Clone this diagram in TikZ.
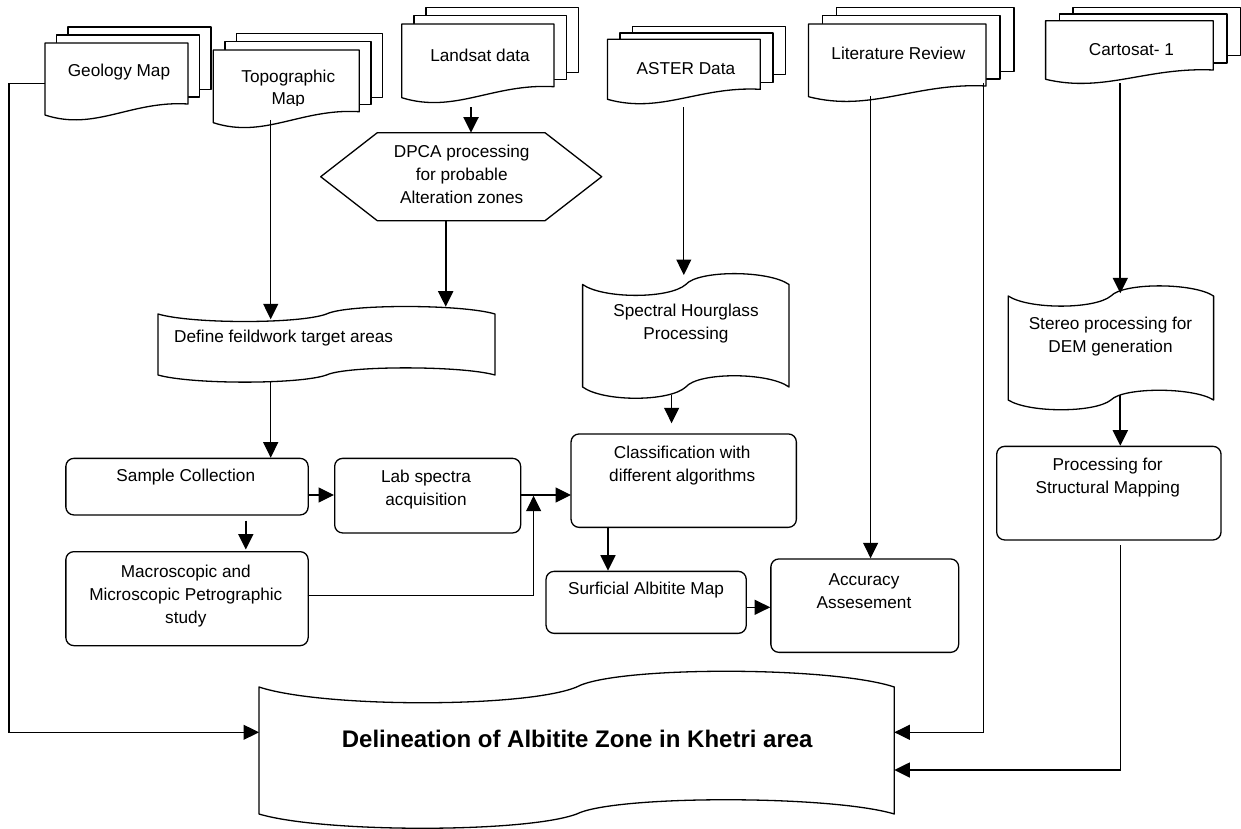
\documentclass[tikz,border=0pt]{standalone}
\usepackage{fontspec}
\setmainfont{Liberation Sans}
\usetikzlibrary{arrows.meta}
\tikzset{
  shp/.style={draw, fill=white, line width=1.3pt, line join=round},
  rbox/.style={draw, fill=white, line width=1.3pt, rounded corners=8pt, anchor=north west, inner sep=0pt},
  txt/.style={inner sep=0pt, align=center, font=\fontsize{17.2}{23}\selectfont},
  arr/.style={line width=1.2pt, -{Triangle[length=15.5pt,width=15pt]}},
  arrk/.style={line width=2pt, -{Triangle[length=15.5pt,width=15pt]}},
  ln/.style={line width=1.2pt}
}
% stacked document: x0 x1 y0 yR yL dx dy
\newcommand\mdoc[7]{%
  \draw[shp] ({#1+2*#6},{#3-2*#7}) rectangle ({#2+2*#6},{#4-14.5});
  \draw[shp] ({#1+#6},{#3-#7}) rectangle ({#2+#6},{#4-7});
  \draw[shp] (#1,#5) -- (#1,#3) -- (#2,#3) -- (#2,#4)
    .. controls ({#1+0.6*(#2-#1)},{#4-0.33*(#5-#4)}) and ({#1+0.35*(#2-#1)},{#5+1.5*(#5-#4)}) .. (#1,#5) -- cycle;
}
% punched tape: x0 x1 ytop ybot atop abot
\newcommand\tapeshape[6]{%
  \draw[shp] (#1,#3)
    .. controls ({#1+0.1*(#2-#1)},{#3+#5}) and ({#1+0.42*(#2-#1)},{#3+#5}) .. ({(#1+#2)/2},#3)
    .. controls ({#1+0.56*(#2-#1)},{#3-#5}) and ({#1+0.9*(#2-#1)},{#3-#5}) .. (#2,#3)
    -- (#2,#4)
    .. controls ({#1+0.9*(#2-#1)},{#4-#6}) and ({#1+0.56*(#2-#1)},{#4-#6}) .. ({(#1+#2)/2},#4)
    .. controls ({#1+0.42*(#2-#1)},{#4+#6}) and ({#1+0.1*(#2-#1)},{#4+#6}) .. (#1,#4) -- cycle;
}
\begin{document}
\begin{tikzpicture}[x=1pt,y=-1pt]
\useasboundingbox (0,0) rectangle (1241,829);

% ---- stacked documents ----
\mdoc{45}{188}{43}{104}{115}{11.5}{8}
\node[txt] (geo) at (119,72) {Geology Map};

\mdoc{213.3}{359.3}{50}{111.7}{122.7}{11.7}{8.3}
\begin{scope}
  \clip (213.3,50) rectangle (359.3,106);
  \node[txt, font=\fontsize{17.2}{21.7}\selectfont] (topo) at (288.3,89.2) {Topographic\\Map};
\end{scope}

\mdoc{401.7}{554}{24}{86.7}{97.7}{12.2}{8.2}
\node[txt] (landsat) at (480,55) {Landsat data};

\mdoc{607.4}{760.3}{39.3}{89.3}{99.3}{12.7}{6.3}
\node[txt] (aster) at (685.9,68.3) {ASTER Data};

\mdoc{808.5}{986}{24}{86}{96.7}{14}{8.3}
\node[txt] (lit) at (898.4,53.3) {Literature Review};

\mdoc{1045.6}{1213.2}{20.7}{70}{79.3}{13.7}{6.7}
\node[txt] (carto) at (1131.5,49.3) {Cartosat- 1};

% ---- hexagon ----
\draw[shp] (320.7,176.7) -- (377.3,132.7) -- (545,132.7) -- (601.7,176.7) -- (545,220.7) -- (377.3,220.7) -- cycle;
\node[txt] (dpca) at (461.7,174.3) {DPCA processing\\for probable\\Alteration zones};

% ---- punched tapes ----
\tapeshape{158}{495}{314}{375}{10}{9.5}
\node[txt, anchor=west] (define) at (174,338.3) {Define feildwork target areas};

\tapeshape{582.6}{789}{284.5}{387}{14.5}{15}
\node[txt] (hour) at (686,323.3) {Spectral Hourglass\\Processing};

\tapeshape{1008.2}{1213.6}{296}{400}{13.5}{13}
\node[txt] (stereo) at (1110.5,336.7) {Stereo processing for\\DEM generation};

\tapeshape{259}{894.3}{687}{814}{21}{19}
\node[anchor=base, inner sep=0pt, font=\bfseries\fontsize{24}{28}\selectfont] (delin) at (577.2,747.3) {Delineation of Albitite Zone in Khetri area};

% ---- rounded boxes ----
\node[rbox, minimum width=242.3pt, minimum height=56.6pt] (samp) at (65.2,457.7) {};
\node[txt] (sampT) at (185.8,477.3) {Sample Collection};
\node[rbox, minimum width=186pt, minimum height=74.6pt] (lab) at (334,457.7) {};
\node[txt] (labT) at (426,489.7) {Lab spectra\\acquisition};
\node[rbox, minimum width=242.3pt, minimum height=94pt] (macro) at (65.2,551) {};
\node[txt] (macroT) at (185.8,596.4) {Macroscopic and\\Microscopic Petrographic\\study};
\node[rbox, minimum width=225.3pt, minimum height=93.4pt] (class) at (570.4,433.3) {};
\node[txt] (classT) at (682.2,465.3) {Classification with\\different algorithms};
\node[rbox, minimum width=200.2pt, minimum height=62pt] (surf) at (545.4,570.7) {};
\node[txt] (surfT) at (646,590) {Surficial Albitite Map};
\node[rbox, minimum width=187.8pt, minimum height=93.4pt] (acc) at (770.2,558.3) {};
\node[txt] (accT) at (864,591) {Accuracy\\Assesement};
\node[rbox, minimum width=224.4pt, minimum height=93.6pt] (proc) at (996,445.7) {};
\node[txt] (procT) at (1107.7,477.7) {Processing for\\Structural Mapping};

% ---- connector end points ----
\coordinate (geoOut) at (45,83.3);
\coordinate (geoBend) at (9,83.3);
\coordinate (delinL) at (259,732.3);
\coordinate (topoOut) at (270.7,120);
\coordinate (defIn1) at (270.7,319.3);
\coordinate (landOut) at (471,107.3);
\coordinate (dpcaIn) at (471,132.7);
\coordinate (dpcaOut) at (445.7,220.7);
\coordinate (defIn2) at (445.7,306.7);
\coordinate (defOut) at (270.7,382);
\coordinate (sampIn) at (270.7,457.7);
\coordinate (sampR) at (307.5,495);
\coordinate (labL) at (334,495);
\coordinate (sampB) at (245.8,520.7);
\coordinate (macroIn) at (245.8,549.5);
\coordinate (macroR) at (307.5,595.7);
\coordinate (joinUp) at (533.6,495.7);
\coordinate (labR) at (520,495);
\coordinate (classL) at (571,495);
\coordinate (asterOut) at (683.8,107.3);
\coordinate (hourIn) at (683.8,275);
\coordinate (hourOut) at (671.6,395);
\coordinate (classIn) at (671.6,423.3);
\coordinate (classOut) at (608,526.7);
\coordinate (surfIn) at (608,570.7);
\coordinate (surfR) at (745.6,607.3);
\coordinate (accL) at (770.2,607.3);
\coordinate (litOut1) at (870.6,96);
\coordinate (accIn) at (870.6,558.3);
\coordinate (litOut2) at (983.5,83);
\coordinate (delinR1) at (894.3,732.3);
\coordinate (cartoOut) at (1120.3,83.3);
\coordinate (stereoIn) at (1120.3,293.3);
\coordinate (stereoOut) at (1120.3,395);
\coordinate (procIn) at (1120.3,445.7);
\coordinate (procOut) at (1120.3,545);
\coordinate (delinR2) at (894.3,770);

% ---- connectors ----
\draw[arr] (geoOut) -- (geoBend) |- (delinL);
\draw[arr] (topoOut) -- (defIn1);
\draw[arrk] (landOut) -- (dpcaIn);
\draw[arrk] (dpcaOut) -- (defIn2);
\draw[arr] (defOut) -- (sampIn);
\draw[arr] (sampR) -- (labL);
\draw[arrk] (sampB) -- (macroIn);
\draw[arr] (macroR) -| (joinUp);
\draw[arr] (labR) -- (classL);
\draw[arr] (asterOut) -- (hourIn);
\draw[arr] (hourOut) -- (classIn);
\draw[arr] (classOut) -- (surfIn);
\draw[arr] (surfR) -- (accL);
\draw[arr] (litOut1) -- (accIn);
\draw[arr] (litOut2) |- (delinR1);
\draw[arrk] (cartoOut) -- (stereoIn);
\draw[arrk] (stereoOut) -- (procIn);
\draw[arr] (procOut) |- (delinR2);
\end{tikzpicture}
\end{document}
